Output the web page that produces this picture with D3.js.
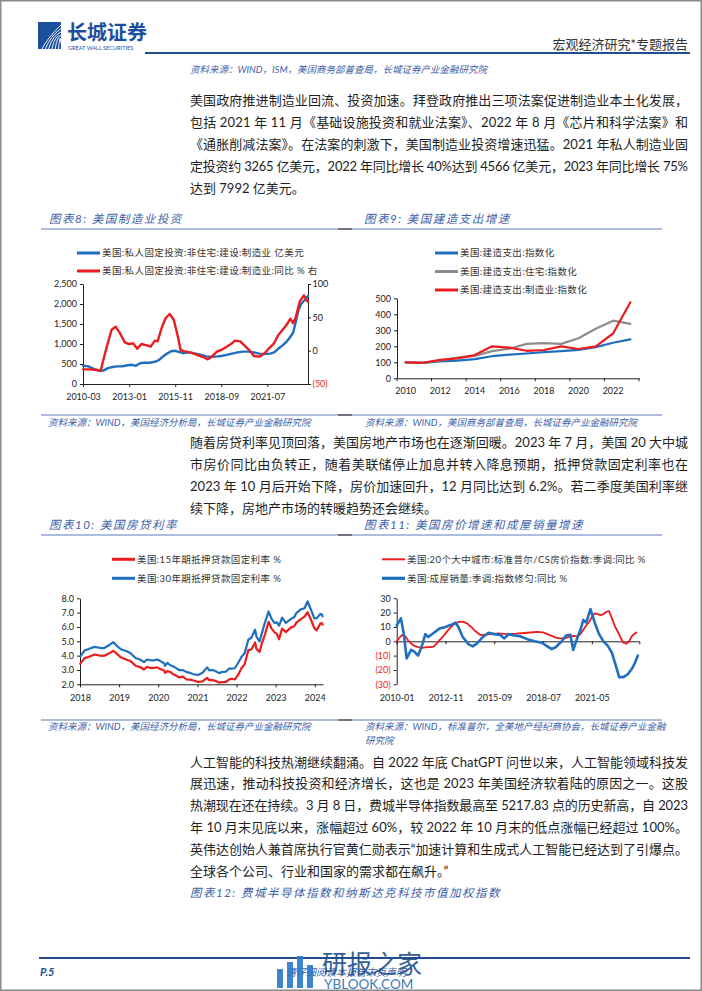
<!DOCTYPE html>
<html>
<head>
<meta charset="utf-8">
<title>宏观经济研究*专题报告 P.5</title>
<script src="https://d3js.org/d3.v7.min.js"></script>
<style>
  body { margin: 0; background: #fff; }
  svg text { font-family: "Lato", "Noto Sans CJK SC", sans-serif; }
  .body-text { font-size: 13px; fill: #1e1e1e; }
  .cap { font-size: 11.5px; fill: #3d5fa8; font-style: italic; letter-spacing: 1.5px; }
  .src { font-size: 9.5px; fill: #3d5fa8; font-style: italic; }
  .leg { font-size: 9.5px; fill: #333; letter-spacing: 0.4px; }
  .axis text { font-size: 9px; fill: #222; font-family: "Lato", sans-serif; }
  .axis path, .axis line { stroke: #222; stroke-width: 1; }
  .series { fill: none; stroke-linejoin: round; stroke-linecap: round; }
</style>
</head>
<body>
<svg id="page" width="702" height="991"></svg>
<script>
// ---------- data ----------
// 图表8 美国制造业投资
const invTicks = ["2010-03", "2013-01", "2015-11", "2018-09", "2021-07"];
const invLevel = [["2010-03",460],["2010-07",440],["2010-11",380],["2011-03",330],["2011-06",335],["2011-09",390],
  ["2011-12",420],["2012-04",440],["2012-08",445],["2012-12",470],["2013-03",480],["2013-06",455],["2013-09",520],
  ["2013-12",530],["2014-04",530],["2014-08",555],["2014-11",600],["2015-02",690],["2015-05",760],["2015-08",820],
  ["2015-11",830],["2016-02",800],["2016-05",770],["2016-08",790],["2016-11",780],["2017-03",750],["2017-07",720],
  ["2017-10",690],["2018-02",680],["2018-06",690],["2018-09",700],["2019-01",730],["2019-05",760],["2019-09",790],
  ["2020-01",810],["2020-05",810],["2020-09",790],["2021-01",760],["2021-05",750],["2021-09",760],["2021-12",790],
  ["2022-03",880],["2022-06",960],["2022-09",1050],["2022-12",1180],["2023-02",1280],["2023-04",1550],["2023-06",1850],
  ["2023-08",2000],["2023-10",2080],["2023-12",2150],["2024-01",2200]];
const invYoy = [["2010-03",-28],["2010-08",-28],["2011-01",-29],["2011-04",-30],["2011-06",-14],["2011-08",2],
  ["2011-12",31],["2012-03",36],["2012-06",27],["2012-10",12],["2013-01",10],["2013-04",11],["2013-07",3],["2013-10",10],
  ["2014-02",8],["2014-05",6],["2014-08",15],["2014-10",14],["2015-01",34],["2015-04",49],["2015-07",55],["2015-10",46],
  ["2016-01",21],["2016-03",1],["2016-06",-1],["2016-11",-3],["2017-04",-7],["2017-09",-11],["2017-11",-13],["2018-02",-9],
  ["2018-06",-1],["2018-09",1],["2019-01",6],["2019-05",11],["2019-07",15],["2019-11",14],["2020-03",6],["2020-07",-2],
  ["2020-09",-8],["2021-01",-9],["2021-05",-4],["2021-08",3],["2021-12",11],["2022-03",23],["2022-05",28],["2022-09",38],
  ["2022-12",48],["2023-02",41],["2023-04",50],["2023-07",74],["2023-10",83],["2023-12",76],["2024-01",73]];

// 图表9 美国建造支出增速（指数化）
const spendYears = [2010,2011,2012,2013,2014,2015,2016,2017,2018,2019,2020,2021,2022,2023];
const spendTotal = [100,97,105,110,120,138,148,155,163,170,178,195,222,243];
const spendResi  = [100,97,110,130,140,170,185,215,220,215,250,310,360,340];
const spendMfg   = [100,97,115,125,145,200,192,172,177,200,183,200,280,475];

// 图表10 美国房贷利率
const rateDates = ["2018-01-04","2018-02-15","2018-03-15","2018-05-17","2018-07-12","2018-08-16","2018-09-27","2018-11-08",
  "2018-12-20","2019-01-17","2019-03-14","2019-04-18","2019-06-06","2019-07-11","2019-08-22","2019-09-19","2019-10-17",
  "2019-11-21","2019-12-19","2020-01-16","2020-02-27","2020-03-05","2020-03-26","2020-04-23","2020-05-21","2020-06-18",
  "2020-07-16","2020-08-20","2020-09-17","2020-10-22","2020-11-19","2020-12-17","2021-01-07","2021-02-18","2021-04-01",
  "2021-04-22","2021-05-20","2021-06-17","2021-07-22","2021-08-19","2021-09-23","2021-10-21","2021-11-18","2021-12-16",
  "2022-01-13","2022-02-17","2022-03-17","2022-04-21","2022-05-19","2022-06-23","2022-07-07","2022-08-04","2022-08-25",
  "2022-09-22","2022-10-27","2022-11-23","2022-12-22","2023-01-12","2023-02-02","2023-03-02","2023-04-06","2023-05-25",
  "2023-06-22","2023-07-13","2023-08-24","2023-09-28","2023-10-26","2023-11-22","2023-12-28","2024-01-18","2024-02-22",
  "2024-03-07","2024-03-14"];
const rate15 = [3.44,3.84,3.88,4.08,3.99,4.00,4.15,4.33,4.07,3.88,3.71,3.62,3.28,3.22,3.03,3.21,3.15,3.14,3.19,3.09,2.95,
  2.79,2.92,2.86,2.70,2.59,2.48,2.54,2.35,2.33,2.28,2.21,2.16,2.21,2.45,2.29,2.29,2.24,2.12,2.15,2.15,2.33,2.39,2.34,
  2.62,3.14,3.39,4.38,4.43,4.92,4.45,4.26,4.85,5.44,6.36,5.90,5.62,5.52,5.14,5.89,5.64,5.97,6.03,6.30,6.55,6.72,7.03,
  6.59,5.93,5.76,6.24,6.27,6.16];
const rate30 = [3.95,4.38,4.44,4.61,4.53,4.53,4.72,4.94,4.62,4.45,4.31,4.17,3.82,3.75,3.55,3.73,3.69,3.66,3.73,3.65,3.45,
  3.29,3.50,3.33,3.24,3.13,2.98,2.99,2.87,2.80,2.72,2.67,2.65,2.81,3.18,2.97,3.00,2.93,2.78,2.86,2.88,3.09,3.10,3.12,
  3.45,3.92,4.16,5.11,5.25,5.81,5.30,4.99,5.55,6.29,7.08,6.58,6.27,6.33,6.09,6.65,6.28,6.57,6.67,6.96,7.23,7.31,7.79,
  7.29,6.61,6.60,6.90,6.88,6.74];
const rateYears = ["2018","2019","2020","2021","2022","2023","2024"];

// 图表11 美国房价增速和成屋销量增速
const homeTicks = ["2010-01", "2012-11", "2015-09", "2018-07", "2021-05"];
const hpiYoy = [["2010-01",0],["2010-03",2.5],["2010-05",4.5],["2010-07",3.5],["2010-09",0.5],["2010-11",-1.5],["2011-01",-3],
  ["2011-04",-4],["2011-07",-4.5],["2011-10",-4],["2012-01",-4],["2012-03",-3.5],["2012-05",-1.5],["2012-07",1],["2012-09",3],
  ["2012-11",5.5],["2013-01",8],["2013-03",10],["2013-05",12],["2013-08",13.5],["2013-11",13.7],["2014-02",12.5],["2014-05",10],
  ["2014-08",7],["2014-11",4.5],["2015-02",4.5],["2015-06",5],["2015-12",5.5],["2016-06",5],["2016-12",5.3],["2017-06",5.8],
  ["2017-12",6.3],["2018-03",6.6],["2018-07",6.2],["2018-10",5],["2019-01",3.8],["2019-04",2.5],["2019-07",2],["2019-10",2],
  ["2020-01",3],["2020-04",3.8],["2020-07",3.5],["2020-09",5],["2020-11",8],["2021-01",11],["2021-03",13.5],["2021-05",17],
  ["2021-07",19.5],["2021-09",19],["2021-11",18.3],["2022-01",19],["2022-03",20.5],["2022-05",21],["2022-07",16],
  ["2022-09",10.5],["2022-11",6.8],["2023-01",2.5],["2023-03",-1],["2023-05",-1.7],["2023-07",0],["2023-09",3.9],
  ["2023-11",5.4],["2023-12",6.1]];
const salesYoy = [["2010-01",11],["2010-04",16],["2010-06",5],["2010-08",-12],["2010-11",-6],["2011-01",-7],["2011-04",-10],
  ["2011-07",-2],["2011-09",5],["2011-11",3],["2012-03",6],["2012-07",9],["2012-11",10],["2013-03",11.5],["2013-06",13],
  ["2013-08",10],["2013-11",3],["2014-03",-2],["2014-06",-3.5],["2014-09",-1.5],["2015-01",3],["2015-05",6],["2015-09",5],
  ["2016-01",4.5],["2016-04",2],["2016-07",5],["2016-11",4],["2017-03",3.5],["2017-08",1.5],["2018-01",0],["2018-06",-1],
  ["2018-10",-3.5],["2019-01",-5.5],["2019-04",-4],["2019-08",0],["2019-11",4],["2020-02",4.5],["2020-04",-6],["2020-06",0],
  ["2020-09",8],["2020-11",15],["2021-01",13],["2021-04",22.5],["2021-07",13],["2021-10",5],["2022-01",0],["2022-04",-3],
  ["2022-07",-8],["2022-10",-18],["2022-12",-25],["2023-03",-25],["2023-06",-23],["2023-09",-19],["2023-11",-15],["2024-01",-10]];

// 正文
const para1 = [
  "美国政府推进制造业回流、投资加速。拜登政府推出三项法案促进制造业本土化发展，",
  "包括 2021 年 11 月《基础设施投资和就业法案》、2022 年 8 月《芯片和科学法案》和",
  "《通胀削减法案》。在法案的刺激下，美国制造业投资增速迅猛。2021 年私人制造业固",
  "定投资约 3265 亿美元，2022 年同比增长 40%达到 4566 亿美元，2023 年同比增长 75%",
  "达到 7992 亿美元。"];
const para2 = [
  "随着房贷利率见顶回落，美国房地产市场也在逐渐回暖。2023 年 7 月，美国 20 大中城",
  "市房价同比由负转正，随着美联储停止加息并转入降息预期，抵押贷款固定利率也在",
  "2023 年 10 月后开始下降，房价加速回升，12 月同比达到 6.2%。若二季度美国利率继",
  "续下降，房地产市场的转暖趋势还会继续。"];
const para3 = [
  "人工智能的科技热潮继续翻涌。自 2022 年底 ChatGPT 问世以来，人工智能领域科技发",
  "展迅速，推动科技投资和经济增长，这也是 2023 年美国经济软着陆的原因之一。这股",
  "热潮现在还在持续。3 月 8 日，费城半导体指数最高至 5217.83 点的历史新高，自 2023",
  "年 10 月末见底以来，涨幅超过 60%，较 2022 年 10 月末的低点涨幅已经超过 100%。",
  "英伟达创始人兼首席执行官黄仁勋表示“加速计算和生成式人工智能已经达到了引爆点。",
  "全球各个公司、行业和国家的需求都在飙升。”"];

// ---------- page ----------
const svg = d3.select("#page");
const parseM = d3.timeParse("%Y-%m");
const parseD = d3.timeParse("%Y-%m-%d");
const BLUE = "#1f6fbf", RED = "#ea1c1f", GRAY = "#8c8c8c", NAVY = "#1f4d8f", CAP = "#3d5fa8";
const paren = d => d < 0 ? `(${-d})` : d;

svg.append("rect").attr("x", 0.75).attr("y", 0.75).attr("width", 700.5).attr("height", 989.5)
  .attr("fill", "#fff").attr("stroke", "#8a8a8a").attr("stroke-width", 1.5);

// header
const logo = svg.append("g");
logo.append("rect").attr("x", 38).attr("y", 22).attr("width", 23).attr("height", 27).attr("fill", "#1d4f9f");
d3.range(6).forEach(i => {
  logo.append("path")
    .attr("d", `M${42 + i * 3.3},49 Q${48 + i * 2.4},${37 - i} 61,${25 + i * 3.6}`)
    .attr("fill", "none").attr("stroke", "#fff").attr("stroke-width", 0.9);
});
svg.append("text").attr("x", 67).attr("y", 39.5).text("长城证券")
  .style("font-family", "'Noto Sans CJK SC'").style("font-weight", 700).style("font-size", "20px").attr("fill", "#1d4f9f");
svg.append("text").attr("x", 68).attr("y", 50).text("GREAT WALL SECURITIES")
  .style("font-size", "5.6px").attr("fill", "#1d4f9f");
svg.append("text").attr("x", 688).attr("y", 44).attr("dy", "0.36em").attr("text-anchor", "end")
  .text("宏观经济研究*专题报告").style("font-size", "13px").attr("fill", "#333");
svg.append("line").attr("x1", 145).attr("x2", 690).attr("y1", 53).attr("y2", 53)
  .attr("stroke", NAVY).attr("stroke-width", 1.8);
svg.append("text").attr("class", "src").attr("x", 190).attr("y", 70).attr("dy", "0.36em")
  .text("资料来源：WIND，ISM，美国商务部普查局，长城证券产业金融研究院");

function paragraph(lines, y0, step) {
  lines.forEach((t, i) => {
    const el = svg.append("text").attr("class", "body-text").attr("x", 190).attr("y", y0 + i * step)
      .attr("dy", "0.36em").text(t);
    if (i < lines.length - 1) el.attr("textLength", 498).attr("lengthAdjust", "spacing");
  });
}
paragraph(para1, 100, 22);
paragraph(para2, 442, 22);
paragraph(para3, 762, 21.8);

function rule(y) {
  svg.append("line").attr("x1", 41).attr("x2", 662).attr("y1", y).attr("y2", y).attr("stroke", "#5b7cc0").attr("stroke-width", 1.2);
  svg.append("line").attr("x1", 338).attr("x2", 352).attr("y1", y).attr("y2", y).attr("stroke", "#555").attr("stroke-width", 1.4);
}
function caption(x, y, t) {
  svg.append("text").attr("class", "cap").attr("x", x).attr("y", y).attr("dy", "0.36em").text(t);
}
function source(x, y, t) {
  svg.append("text").attr("class", "src").attr("x", x).attr("y", y).attr("dy", "0.36em").text(t);
}
function legend(x, y, color, width, t) {
  const g = svg.append("g");
  g.append("line").attr("x1", x).attr("x2", x + 23).attr("y1", y).attr("y2", y).attr("stroke", color).attr("stroke-width", width);
  g.append("text").attr("class", "leg").attr("x", x + 25).attr("y", y).attr("dy", "0.36em").text(t);
}

caption(49, 219, "图表8:  美国制造业投资");
caption(364, 219, "图表9:  美国建造支出增速");
rule(229);
caption(49, 525, "图表10:  美国房贷利率");
caption(364, 525, "图表11:  美国房价增速和成屋销量增速");
rule(535);

// ---------- 图表8 ----------
{
  const x = d3.scaleTime().domain([parseM("2010-03"), parseM("2024-01")]).range([83, 308]);
  const yL = d3.scaleLinear().domain([0, 2500]).range([384, 284]);
  const yR = d3.scaleLinear().domain([-50, 100]).range([384, 284]);
  svg.append("g").attr("class", "axis").attr("transform", "translate(0,384)")
    .call(d3.axisBottom(x).tickValues(invTicks.map(parseM)).tickFormat(d3.timeFormat("%Y-%m"))
      .tickSize(3).tickPadding(7).tickSizeOuter(0));
  svg.append("g").attr("class", "axis").attr("transform", "translate(83,0)")
    .call(d3.axisLeft(yL).tickValues(d3.range(0, 2501, 500)).tickFormat(d3.format(",")).tickSize(3).tickPadding(3).tickSizeOuter(0));
  const ra = svg.append("g").attr("class", "axis").attr("transform", "translate(308,0)")
    .call(d3.axisRight(yR).tickValues([-50, 0, 50, 100]).tickFormat(paren).tickSize(3).tickPadding(1.5).tickSizeOuter(0));
  ra.selectAll(".tick text").filter(d => d < 0).style("fill", RED);

  svg.append("path").datum(invLevel).attr("class", "series").attr("stroke", BLUE).attr("stroke-width", 2.4)
    .attr("d", d3.line().x(d => x(parseM(d[0]))).y(d => yL(d[1])));
  svg.append("path").datum(invYoy).attr("class", "series").attr("stroke", RED).attr("stroke-width", 2.4)
    .attr("d", d3.line().x(d => x(parseM(d[0]))).y(d => yR(d[1])));

  legend(77, 253, BLUE, 3, "美国:私人固定投资:非住宅:建设:制造业 亿美元");
  legend(77, 271, RED, 3, "美国:私人固定投资:非住宅:建设:制造业:同比 % 右");
}

// ---------- 图表9 ----------
{
  const band = d3.scaleBand().domain(spendYears).range([397, 639]);
  const cx = yr => band(yr) + band.bandwidth() / 2;
  const y = d3.scaleLinear().domain([0, 500]).range([378.3, 298.3]);
  const ax = svg.append("g").attr("class", "axis").attr("transform", "translate(0,378.3)")
    .call(d3.axisBottom(band).tickValues(spendYears.filter(d => d % 2 === 0)).tickSize(0).tickPadding(9).tickSizeOuter(0));
  ax.selectAll(".tick line").remove();
  const edges = spendYears.filter((d, i) => i % 2 === 0).map(d => band(d)).concat([band.range()[1]]);
  ax.selectAll(".edge").data(edges).join("line").attr("class", "edge")
    .attr("x1", d => d).attr("x2", d => d).attr("y1", 0).attr("y2", 3);
  svg.append("g").attr("class", "axis").attr("transform", "translate(397,0)")
    .call(d3.axisLeft(y).ticks(5).tickSize(3).tickPadding(3).tickSizeOuter(0));

  const line = d3.line().x((d, i) => cx(spendYears[i])).y(d => y(d));
  [[spendTotal, BLUE], [spendResi, GRAY], [spendMfg, RED]].forEach(([s, c]) => {
    svg.append("path").datum(s).attr("class", "series").attr("stroke", c).attr("stroke-width", 2.2).attr("d", line);
  });

  legend(435, 253, BLUE, 3, "美国:建造支出:指数化");
  legend(435, 271.5, GRAY, 3, "美国:建造支出:住宅:指数化");
  legend(435, 290, RED, 3, "美国:建造支出:制造业:指数化");
}

rule(415);
source(48, 423, "资料来源：WIND，美国经济分析局，长城证券产业金融研究院");
source(365, 423, "资料来源：WIND，美国商务部普查局，长城证券产业金融研究院");

// ---------- 图表10 ----------
{
  const x = d3.scaleTime().domain([parseD("2018-01-01"), parseD("2024-03-18")]).range([80, 323]);
  const y = d3.scaleLinear().domain([2, 8]).range([684.3, 598.3]);
  svg.append("g").attr("class", "axis").attr("transform", "translate(0,684.3)")
    .call(d3.axisBottom(x).tickValues(rateYears.map(d3.timeParse("%Y"))).tickFormat(d3.timeFormat("%Y"))
      .tickSize(3).tickPadding(7).tickSizeOuter(0));
  svg.append("g").attr("class", "axis").attr("transform", "translate(80,0)")
    .call(d3.axisLeft(y).ticks(6).tickFormat(d3.format(".1f")).tickSize(3).tickPadding(3).tickSizeOuter(0));
  const line = d3.line().x((d, i) => x(parseD(rateDates[i]))).y(d => y(d));
  svg.append("path").datum(rate15).attr("class", "series").attr("stroke", RED).attr("stroke-width", 2.2).attr("d", line);
  svg.append("path").datum(rate30).attr("class", "series").attr("stroke", BLUE).attr("stroke-width", 2.2).attr("d", line);

  legend(112, 559.3, RED, 3, "美国:15年期抵押贷款固定利率 %");
  legend(112, 578.3, BLUE, 3, "美国:30年期抵押贷款固定利率 %");
}

// ---------- 图表11 ----------
{
  const x = d3.scaleTime().domain([parseM("2010-01"), parseM("2024-02")]).range([396.7, 639.3]);
  const y = d3.scaleLinear().domain([-30, 30]).range([684.3, 598.3]);
  svg.append("g").attr("class", "axis").attr("transform", `translate(0,${y(0)})`)
    .call(d3.axisBottom(x).tickValues(homeTicks.map(parseM)).tickFormat("").tickSize(3).tickSizeOuter(3));
  const lab = svg.append("g").attr("class", "axis").attr("transform", "translate(0,684.3)")
    .call(d3.axisBottom(x).tickValues(homeTicks.map(parseM)).tickFormat(d3.timeFormat("%Y-%m")).tickSize(0).tickPadding(10));
  lab.select(".domain").remove();
  const ya = svg.append("g").attr("class", "axis").attr("transform", "translate(396.7,0)")
    .call(d3.axisLeft(y).ticks(6).tickFormat(paren).tickSize(3).tickPadding(3).tickSizeOuter(0));
  ya.selectAll(".tick text").filter(d => d < 0).style("fill", RED);

  svg.append("path").datum(hpiYoy).attr("class", "series").attr("stroke", RED).attr("stroke-width", 1.8)
    .attr("d", d3.line().x(d => x(parseM(d[0]))).y(d => y(d[1])));
  svg.append("path").datum(salesYoy).attr("class", "series").attr("stroke", BLUE).attr("stroke-width", 2.6)
    .attr("d", d3.line().x(d => x(parseM(d[0]))).y(d => y(d[1])));

  legend(382, 559.3, RED, 2, "美国:20个大中城市:标准普尔/CS房价指数:季调:同比 %");
  legend(382, 578.3, BLUE, 3.2, "美国:成屋销量:季调:指数修匀:同比 %");
}

rule(720);
source(48, 727, "资料来源：WIND，美国经济分析局，长城证券产业金融研究院");
source(365, 727, "资料来源：WIND，标准普尔，全美地产经纪商协会，长城证券产业金融");
source(365, 741, "研究院");

caption(190, 893, "图表12:  费城半导体指数和纳斯达克科技市值加权指数");

// footer
svg.append("line").attr("x1", 39).attr("x2", 690).attr("y1", 958).attr("y2", 958).attr("stroke", NAVY).attr("stroke-width", 2);
svg.append("text").attr("x", 40).attr("y", 972).attr("dy", "0.36em").text("P.5")
  .style("font-size", "11px").style("font-weight", 700).style("font-style", "italic").attr("fill", NAVY);
svg.append("text").attr("x", 346).attr("y", 972).attr("dy", "0.36em").attr("text-anchor", "middle")
  .text("请仔细阅读本报告末页声明").style("font-size", "10px").style("font-style", "italic").attr("fill", CAP);
// watermark
const wm = svg.append("g").attr("opacity", 0.9);
[[277, 969, 6, 19], [287, 962, 6, 26], [297, 956, 6, 32], [307, 965, 6, 23]].forEach(([bx, by, bw, bh]) => {
  wm.append("rect").attr("x", bx).attr("y", by).attr("width", bw).attr("height", bh).attr("fill", "#2a78c8");
});
wm.append("text").attr("x", 322).attr("y", 964).attr("dy", "0.36em").text("研报之家")
  .style("font-family", "'Noto Sans CJK SC'").style("font-size", "25px").attr("fill", "#1c4f8a");
wm.append("text").attr("x", 324).attr("y", 984).attr("dy", "0.36em").text("YBLOOK.COM")
  .style("font-size", "13.5px").attr("fill", "#2a6db5");
</script>
</body>
</html>
